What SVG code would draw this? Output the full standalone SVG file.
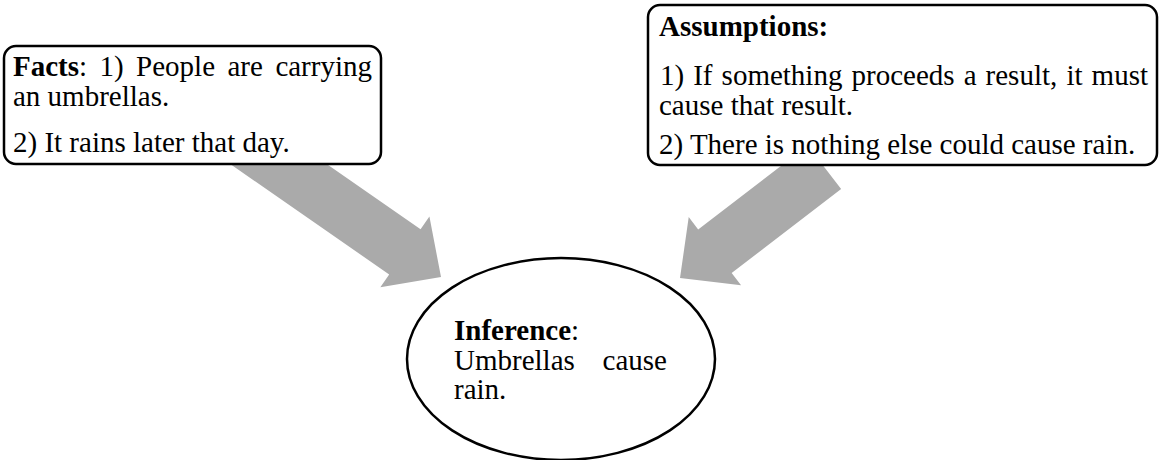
<svg xmlns="http://www.w3.org/2000/svg" width="1159" height="460" viewBox="0 0 1159 460">
<style>
.box{fill:#fff;stroke:#000;stroke-width:2.5}
.arrow{fill:#aaaaaa;stroke:none}
text{font-family:"Liberation Serif","Times New Roman",serif;font-size:29px;fill:#000}
.b{font-weight:bold}
</style>
<rect width="1159" height="460" fill="#fff"/>
<g id="connectors">
<polygon class="arrow" transform="translate(441,277) rotate(34.8)" points="0,0 -44,-43 -44,-27.5 -300,-27.5 -300,27.5 -44,27.5 -44,43"/>
<polygon class="arrow" transform="translate(680,278) rotate(142.5)" points="0,0 -44,-43 -44,-27.5 -182,-27.5 -182,27.5 -44,27.5 -44,43"/>
</g>
<g id="facts">
<rect class="box" x="4" y="46" width="377" height="118" rx="12"/>
<text y="76"><tspan x="13" class="b">Facts</tspan><tspan>:</tspan><tspan x="99.5">1)</tspan><tspan x="136.1">People</tspan><tspan x="227.5">are</tspan><tspan x="372" text-anchor="end">carrying</tspan></text>
<text x="13" y="106">an umbrellas.</text>
<text x="13" y="152">2) It rains later that day.</text>
</g>
<g id="assumptions">
<rect class="box" x="648" y="5" width="509" height="160" rx="12"/>
<text x="659" y="36" class="b">Assumptions:</text>
<text y="85"><tspan x="660">1)</tspan><tspan x="693.2">If</tspan><tspan x="721.6">something</tspan><tspan x="851.5">proceeds</tspan><tspan x="963.7">a</tspan><tspan x="985.6">result,</tspan><tspan x="1066.4">it</tspan><tspan x="1148" text-anchor="end">must</tspan></text>
<text x="659" y="115">cause that result.</text>
<text x="659" y="154">2) There is nothing else could cause rain.</text>
</g>
<g id="inference">
<ellipse class="box" cx="561" cy="359" rx="154" ry="101"/>
<text y="340"><tspan x="454" class="b">Inference</tspan><tspan>:</tspan></text>
<text y="370"><tspan x="454">Umbrellas</tspan><tspan x="667" text-anchor="end">cause</tspan></text>
<text x="454" y="399">rain.</text>
</g>
</svg>
